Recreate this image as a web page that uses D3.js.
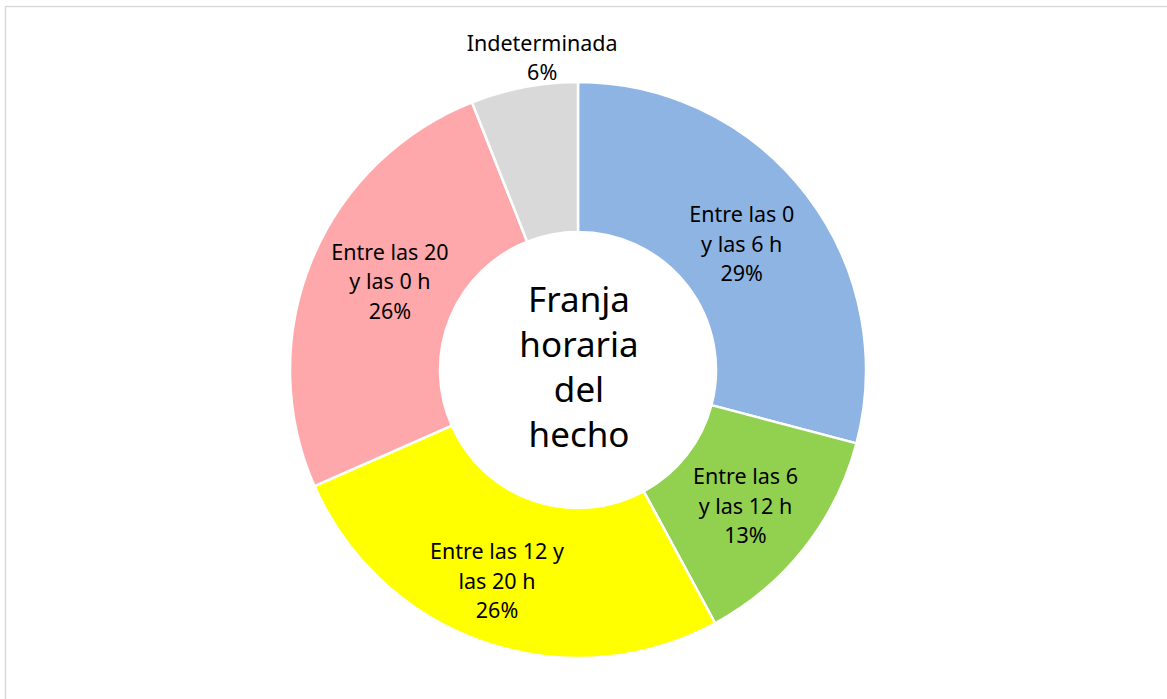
<!DOCTYPE html>
<html>
<head>
<meta charset="utf-8">
<script src="https://cdn.jsdelivr.net/npm/d3@7"></script>
<style>
  html, body { margin: 0; padding: 0; background: #fff; }
  svg { display: block; }
  text { font-family: "Noto Sans", "Open Sans", sans-serif; fill: #000; }
</style>
</head>
<body>
<svg id="chart" width="1167" height="699"></svg>
<script>
// Data
const categories = [
  ["Entre las 0", "y las 6 h"],
  ["Entre las 6", "y las 12 h"],
  ["Entre las 12 y", "las 20 h"],
  ["Entre las 20", "y las 0 h"],
  ["Indeterminada"]
];
const values = [29.1, 13.0, 26.3, 25.6, 6.0];
const percentLabels = ["29%", "13%", "26%", "26%", "6%"];
const colors = ["#8EB4E3", "#92D050", "#FFFF00", "#FFA8AB", "#D9D9D9"];
const centerTitle = ["Franja", "horaria", "del", "hecho"];

const W = 1167, H = 699;
const cx = 578, cy = 370;
const rOuter = 288, rInner = 138;

const svg = d3.select("#chart");

// frame (extends past the right and bottom edges, as in the reference)
svg.append("rect")
  .attr("x", 5.5).attr("y", 6.5)
  .attr("width", W + 10).attr("height", H + 10)
  .attr("fill", "none").attr("stroke", "#d9d9d9").attr("stroke-width", 1.5);

const g = svg.append("g").attr("transform", `translate(${cx},${cy})`);

const pie = d3.pie().sort(null).value(d => d);
const arcs = pie(values);
const arc = d3.arc().innerRadius(rInner).outerRadius(rOuter);

g.selectAll("path.slice")
  .data(arcs)
  .join("path")
  .attr("class", "slice")
  .attr("d", arc)
  .attr("fill", (d, i) => colors[i])
  .attr("stroke", "#fff")
  .attr("stroke-width", 2.5)
  .attr("stroke-linejoin", "round");

// labels
const insideArc = d3.arc().innerRadius(rInner).outerRadius(rOuter);
const outsideArc = d3.arc().innerRadius(rOuter + 26).outerRadius(rOuter + 26);
const nudges = [[-5, 3], [0, 3], [-12, 8], [9, -9], [23, 0]];
const lineH = 29.5;

arcs.forEach((a, i) => {
  const outside = i === 4;
  let [x, y] = outside ? outsideArc.centroid(a) : insideArc.centroid(a);
  x += nudges[i][0];
  y += nudges[i][1];
  if (outside) { y = -(rOuter + 25.5); }
  const lines = categories[i].concat([percentLabels[i]]);
  const t = g.append("text")
    .attr("text-anchor", "middle")
    .attr("font-size", 21.5)
    .attr("x", x)
    .attr("y", y - (lines.length - 1) * lineH / 2)
    .attr("dominant-baseline", "central");
  lines.forEach((ln, k) => {
    t.append("tspan").attr("x", x).attr("dy", k === 0 ? 0 : lineH).text(ln);
  });
});

// center title
const titleLineH = 45;
const ct = g.append("text")
  .attr("text-anchor", "middle")
  .attr("font-size", 35)
  .attr("dominant-baseline", "central")
  .attr("y", -(centerTitle.length - 1) * titleLineH / 2 - 5);
centerTitle.forEach((ln, k) => {
  ct.append("tspan").attr("x", 1).attr("dy", k === 0 ? 0 : titleLineH).text(ln);
});
</script>
</body>
</html>
